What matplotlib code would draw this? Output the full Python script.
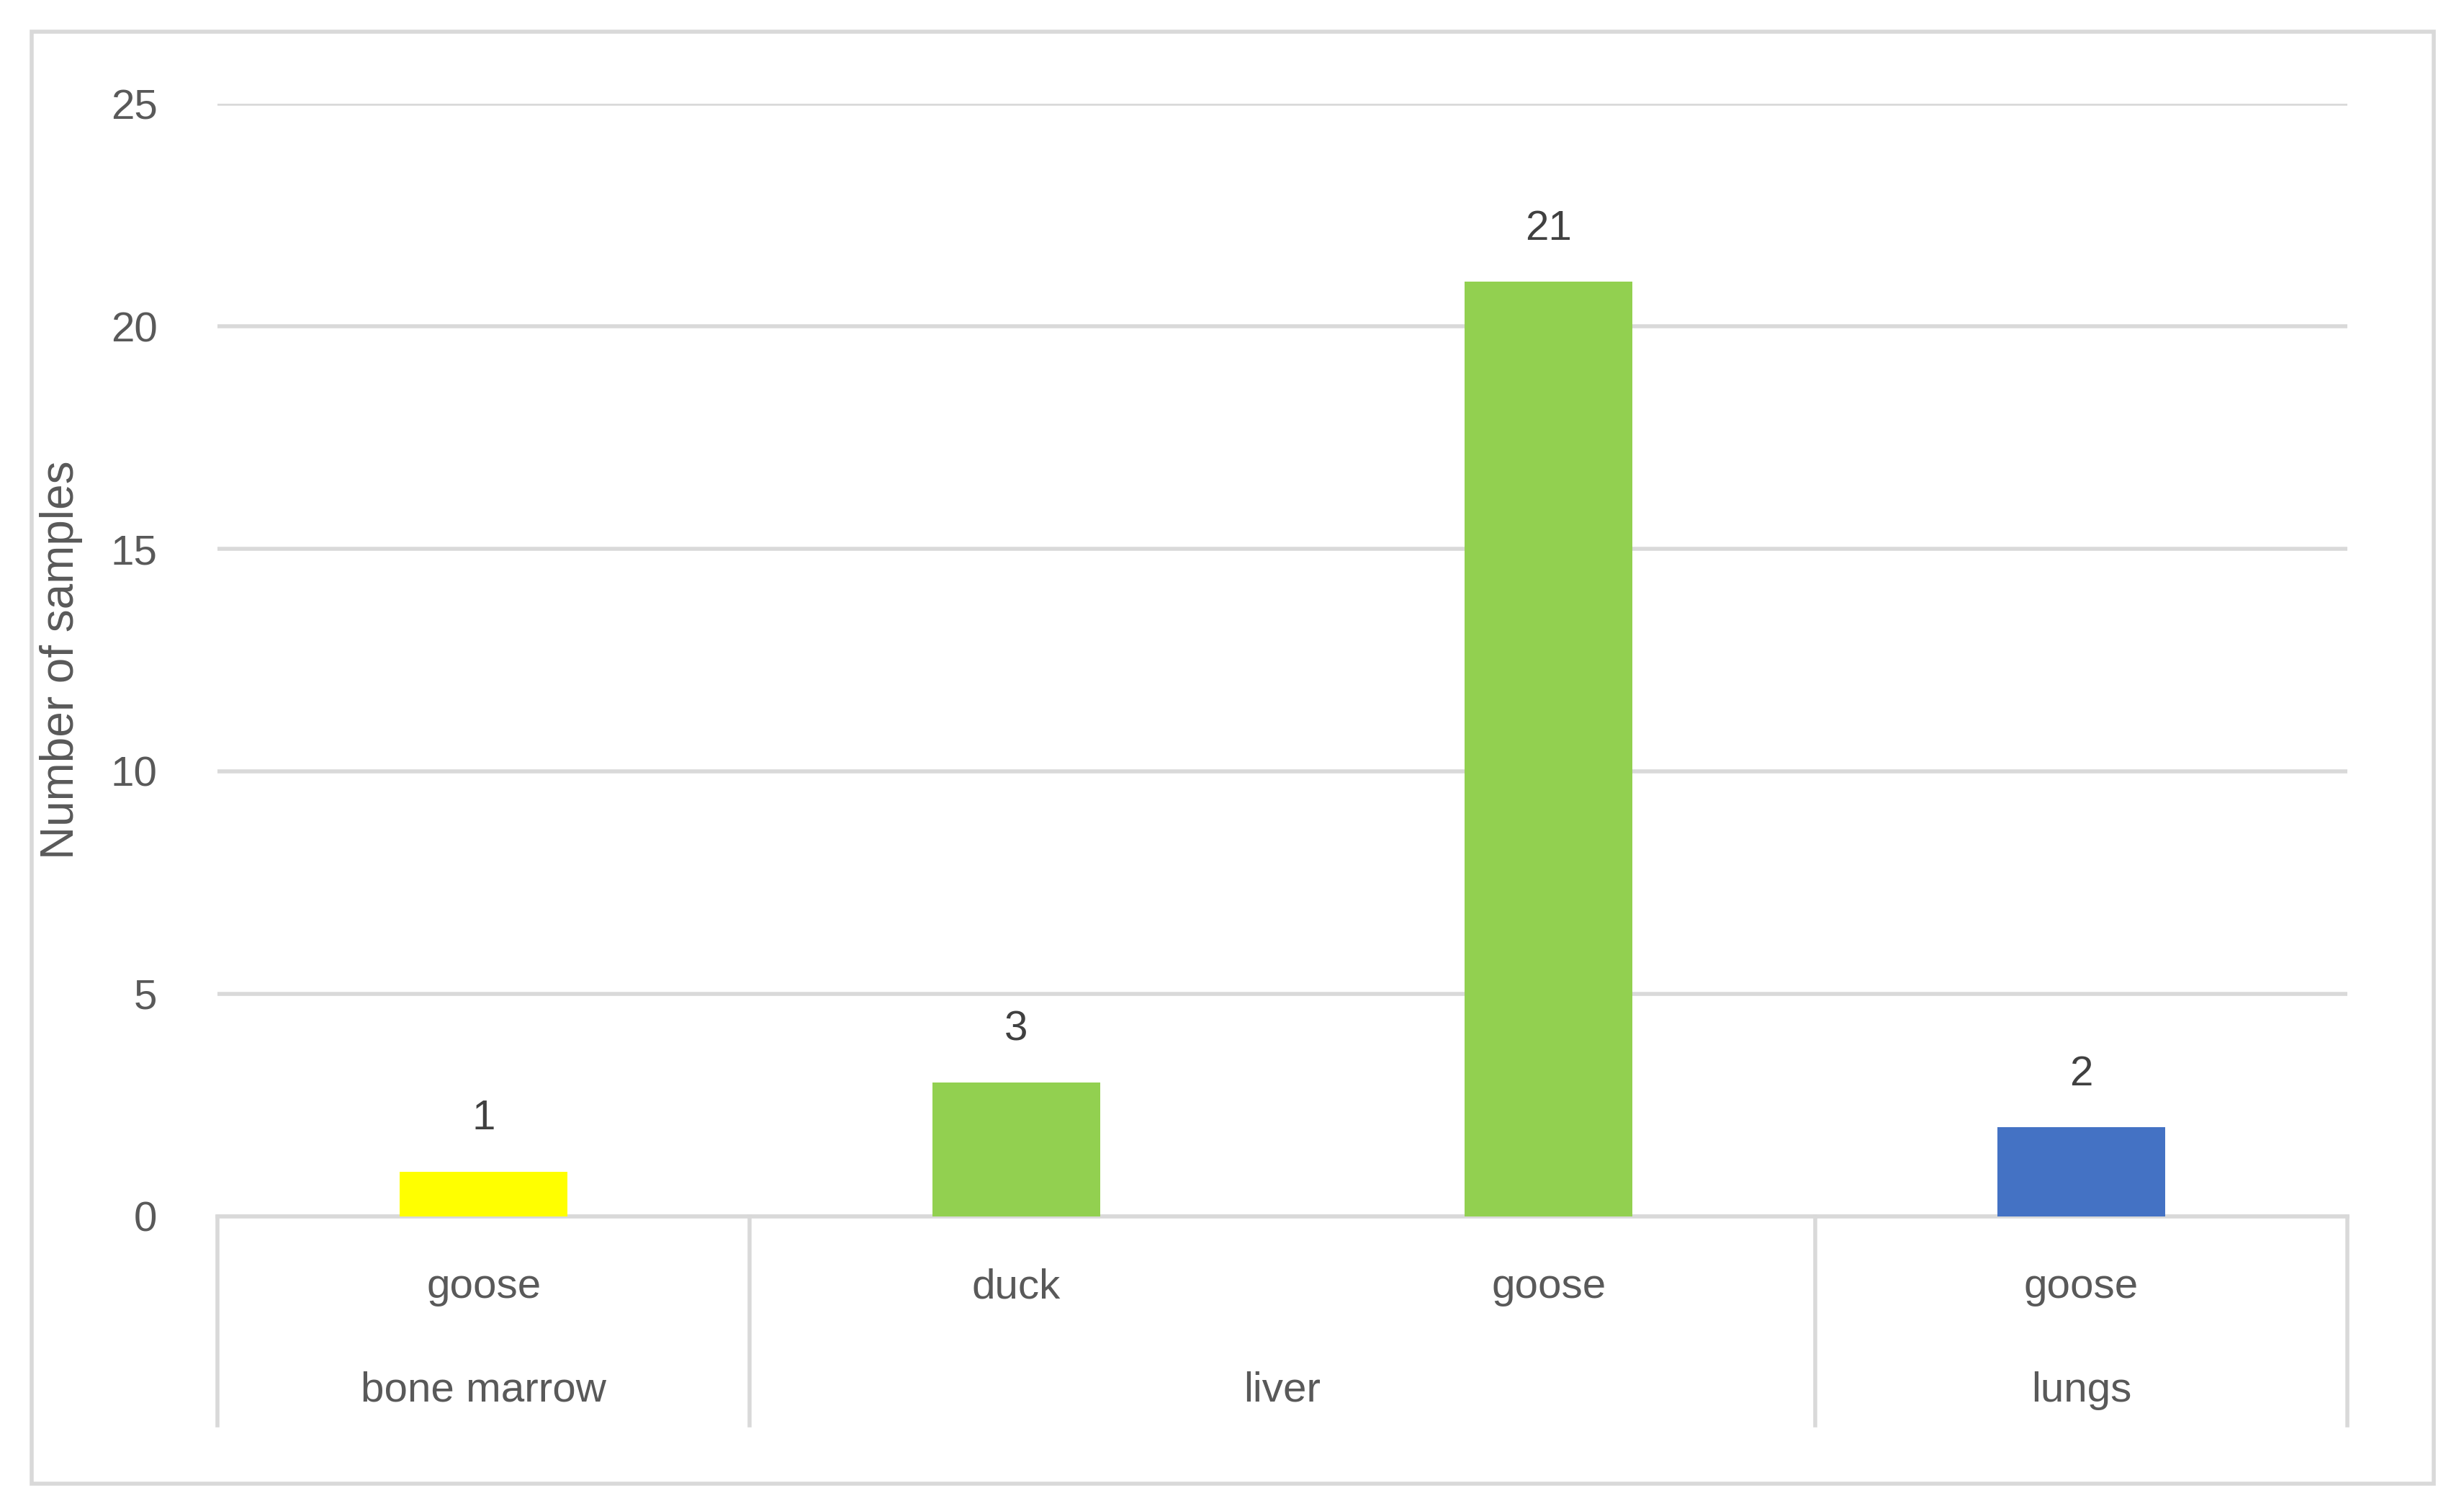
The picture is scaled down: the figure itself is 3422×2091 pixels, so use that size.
import matplotlib.pyplot as plt
from matplotlib.patches import Rectangle

species = ['goose', 'duck', 'goose', 'goose']
tissues = ['bone marrow', 'liver', 'lungs']
tissue_span = [1, 2, 1]
counts = [1, 3, 21, 2]
colors = ['#FFFF00', '#92D050', '#92D050', '#4472C4']
yticks = [0, 5, 10, 15, 20, 25]

plt.rcParams['font.family'] = ['Liberation Sans', 'DejaVu Sans']

W, H = 1564, 956
fig = plt.figure(figsize=(17.11, 10.455), dpi=200)
fig.add_artist(Rectangle((20 / W, 1 - 942 / H), 1525 / W, 922 / H,
                         transform=fig.transFigure, fill=False,
                         edgecolor='#D9D9D9', linewidth=2))
ax = fig.add_axes([138 / W, 1 - 772 / H, 1352 / W, 706 / H])

x = range(len(counts))
ax.bar(x, counts, width=0.315, color=colors, zorder=3)
for xi, c in zip(x, counts):
    ax.text(xi, c + 0.75, str(c), ha='center', va='bottom',
            fontsize=21, color='#404040')

ax.set_xlim(-0.5, len(counts) - 0.5)
ax.set_ylim(0, 25)
ax.set_yticks(yticks)
ax.tick_params(axis='y', length=0, labelsize=21, labelcolor='#595959', pad=30)
ax.set_xticks([])
ax.grid(axis='y', color='#D9D9D9', linewidth=2, zorder=0)
for s in ['top', 'right', 'left']:
    ax.spines[s].set_visible(False)
ax.spines['bottom'].set_color('#D9D9D9')
ax.spines['bottom'].set_linewidth(2)
ax.set_ylabel('Number of samples', fontsize=23, color='#595959', labelpad=14)

tr = ax.get_xaxis_transform()
for xi, sp in zip(x, species):
    ax.text(xi, -0.064, sp, transform=tr, ha='center', va='center',
            fontsize=21, color='#595959')

start = 0
bounds = [-0.5]
for t, n in zip(tissues, tissue_span):
    center = start + (n - 1) / 2
    ax.text(center, -0.157, t, transform=tr, ha='center', va='center',
            fontsize=21, color='#595959')
    start += n
    bounds.append(start - 0.5)
for b in bounds:
    ax.plot([b, b], [0, -0.188], transform=tr, color='#D9D9D9',
            linewidth=2, clip_on=False)

fig.savefig('out.png', dpi=200)
